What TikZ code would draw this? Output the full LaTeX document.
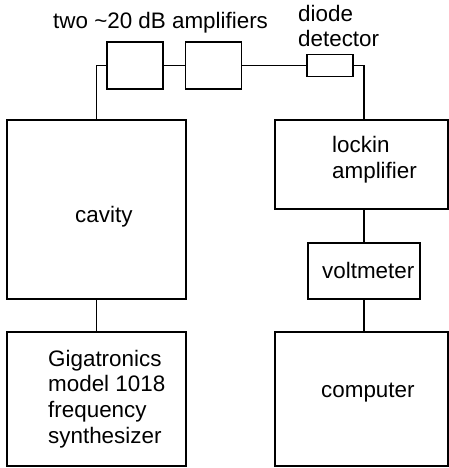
\documentclass[tikz,border=0pt]{standalone}
\usepackage{fontspec}
\setmainfont{Liberation Sans}
\begin{document}
\begin{tikzpicture}[x=1pt,y=-1pt,
  box/.style={draw,line width=1.2pt,rectangle,inner sep=0pt,outer sep=0pt},
  lbl/.style={inner sep=0pt,anchor=base west,align=left,font=\fontsize{22.4}{25.6}\selectfont},
  wire/.style={line width=1.2pt}]
\useasboundingbox (0,0) rectangle (449,468);
% boxes
\node[box,minimum width=56pt,minimum height=47pt] (amp1) at (135,65.5) {};
\node[box,minimum width=56pt,minimum height=47pt] (amp2) at (213.5,65.5) {};
\node[box,minimum width=46pt,minimum height=22pt] (diode) at (330,65.5) {};
\node[box,minimum width=179pt,minimum height=179pt] (cavity) at (96.5,209.5) {};
\node[box,minimum width=173pt,minimum height=89pt] (lockin) at (361.5,164.5) {};
\node[box,minimum width=112pt,minimum height=56pt] (volt) at (364,271) {};
\node[box,minimum width=179pt,minimum height=134pt] (synth) at (96.5,399) {};
\node[box,minimum width=173pt,minimum height=134pt] (comp) at (361.5,399) {};
% texts (anchor = baseline of the last line)
\node[lbl] (tamp) at (53,29) {two \textasciitilde20 dB amplifiers};
\node[lbl] (tdiode) at (298,47) {diode\\detector};
\node[lbl] (tcav) at (75,222) {cavity};
\node[lbl] (tlock) at (332,178) {lockin\\amplifier};
\node[lbl] (tvolt) at (322,278) {voltmeter};
\node[lbl] (tcomp) at (321,397) {computer};
\node[lbl] (tsynth) at (48,443) {Gigatronics\\model 1018\\frequency\\synthesizer};
% wires
\draw[wire] (amp1.west) -| (cavity.north);
\draw[wire] (amp1.east) -- (amp2.west);
\draw[wire] (amp2.east) -- (diode.west);
\draw[wire] (diode.east) -| (volt.north |- lockin.north);
\draw[wire] (volt.north |- lockin.south) -- (volt.north);
\draw[wire] (volt.south) -- (volt.south |- comp.north);
\draw[wire] (cavity.south) -- (synth.north);
\end{tikzpicture}
\end{document}
